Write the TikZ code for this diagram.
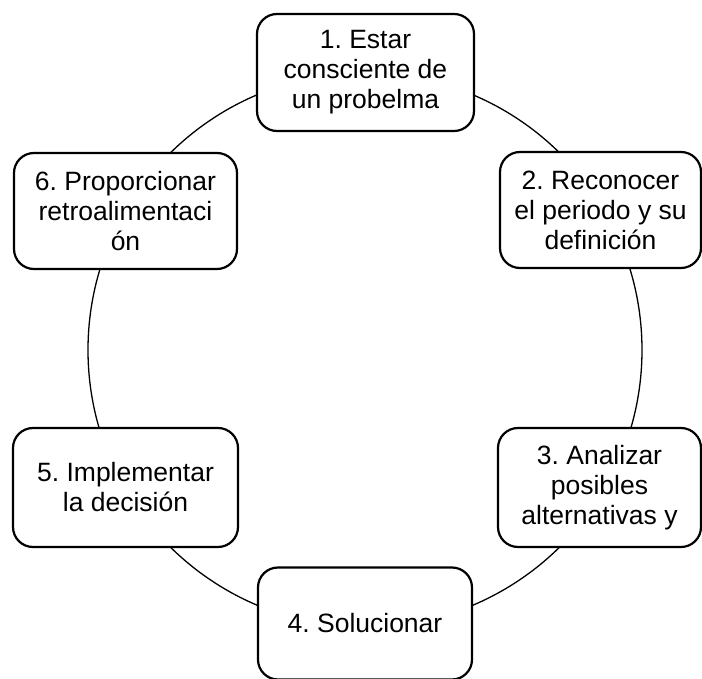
\documentclass[tikz,border=0pt]{standalone}
\usepackage{fontspec}
\setmainfont{Liberation Sans}
\frenchspacing
\begin{document}
\begin{tikzpicture}[x=1pt,y=-1pt,
  stage/.style={draw=black, line width=2.2pt, rounded corners=20pt, fill=white,
    align=center, inner sep=0pt, font=\fontsize{26.5}{30}\selectfont},
  ring/.style={draw=black, line width=1.3pt}]
\useasboundingbox (0,0) rectangle (702,679);
\clip (0,0) rectangle (702,679);
\fill[white] (0,0) rectangle (702,679);
\coordinate (c) at (365,350);
\draw[ring] (c) circle (277pt);
\node[stage, minimum width=217pt, minimum height=117pt] (n1) at (365.5,72.5) {1. Estar\\consciente de\\un probelma};
\node[stage, minimum width=201pt, minimum height=116pt] (n2) at (600.5,210) {2. Reconocer\\el periodo y su\\definición};
\node[stage, minimum width=203pt, minimum height=119pt] (n3) at (599.5,487.5) {3. Analizar\\posibles\\alternativas y};
\node[stage, minimum width=214pt, minimum height=112pt] (n4) at (365,623.5) {4. Solucionar};
\node[stage, minimum width=225pt, minimum height=119pt] (n5) at (125.5,487.5) {5. Implementar\\la decisión};
\node[stage, minimum width=223pt, minimum height=116pt] (n6) at (125.5,211) {6. Proporcionar\\retroalimentaci\\ón};
\end{tikzpicture}
\end{document}
